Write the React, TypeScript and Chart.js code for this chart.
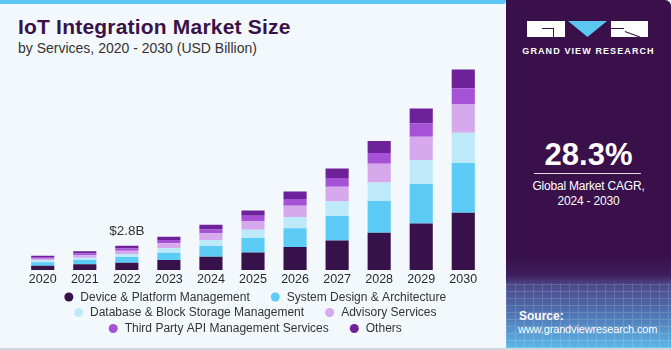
import React, { useEffect, useRef } from 'react';
import { Chart, registerables } from 'chart.js';

Chart.register(...registerables);

const years = ['2020', '2021', '2022', '2023', '2024', '2025', '2026', '2027', '2028', '2029', '2030'];
const devicePlatform = [0.50, 0.65, 0.84, 1.15, 1.53, 2.03, 2.65, 3.41, 4.30, 5.37, 6.60];
const systemDesign = [0.38, 0.50, 0.65, 0.84, 1.23, 1.65, 2.15, 2.80, 3.64, 4.53, 5.72];
const databaseStorage = [0.23, 0.27, 0.35, 0.54, 0.69, 0.96, 1.30, 1.69, 2.15, 2.76, 3.49];
const advisory = [0.19, 0.27, 0.38, 0.54, 0.77, 1.00, 1.30, 1.69, 2.15, 2.69, 3.26];
const thirdPartyApi = [0.19, 0.23, 0.27, 0.38, 0.46, 0.61, 0.77, 1.00, 1.23, 1.53, 1.88];
const others = [0.15, 0.23, 0.31, 0.38, 0.54, 0.61, 0.88, 1.11, 1.38, 1.73, 2.15];

const seriesNames = [
  'Device & Platform Management',
  'System Design & Architecture',
  'Database & Block Storage Management',
  'Advisory Services',
  'Third Party API Management Services',
  'Others',
];
const seriesColors = ['#371149', '#5ccbf5', '#bee9f9', '#d5a9ec', '#a652d7', '#6e229a'];
const legendRows = [[0, 1], [2, 3], [4, 5]];
const calloutIndex = 2;
const calloutText = '$2.8B';

const FONT = '"Liberation Sans", Arial, sans-serif';

const overlayPlugin = {
  id: 'overlay',
  afterDraw(chart: any) {
    const ctx = chart.ctx;
    ctx.save();
    const lastMeta = chart.getDatasetMeta(chart.data.datasets.length - 1);
    const el = lastMeta.data[calloutIndex];
    if (el) {
      ctx.font = `13.5px ${FONT}`;
      ctx.fillStyle = '#333333';
      ctx.textAlign = 'center';
      ctx.textBaseline = 'middle';
      ctx.fillText(calloutText, el.x, el.y - 14);
    }
    ctx.font = `12px ${FONT}`;
    ctx.textAlign = 'left';
    ctx.textBaseline = 'middle';
    const rowYs = [297, 312.5, 328.5];
    const centerX = 253;
    const r = 4.5;
    const textGap = 11.5;
    const itemGap = 21;
    legendRows.forEach((row, ri) => {
      const widths = row.map((i) => textGap + ctx.measureText(chart.data.datasets[i].label).width);
      const total = widths.reduce((a, b) => a + b, 0) + itemGap * (row.length - 1) + r;
      let x = centerX - total / 2;
      row.forEach((i, k) => {
        const ds = chart.data.datasets[i];
        ctx.beginPath();
        ctx.fillStyle = ds.backgroundColor;
        ctx.arc(x + r, rowYs[ri], r, 0, Math.PI * 2);
        ctx.fill();
        ctx.fillStyle = '#333333';
        ctx.fillText(ds.label, x + r + textGap, rowYs[ri] + 0.5);
        x += r + widths[k] + itemGap;
      });
    });
    ctx.restore();
  },
};

function BarChart() {
  const ref = useRef<HTMLCanvasElement | null>(null);
  useEffect(() => {
    if (!ref.current) return;
    const data = [devicePlatform, systemDesign, databaseStorage, advisory, thirdPartyApi, others];
    const chart = new Chart(ref.current, {
      type: 'bar',
      data: {
        labels: years,
        datasets: data.map((d, i) => ({
          label: seriesNames[i],
          data: d,
          backgroundColor: seriesColors[i],
          borderWidth: 0,
          barPercentage: 0.55,
          categoryPercentage: 1,
        })),
      },
      options: {
        animation: false,
        responsive: false,
        maintainAspectRatio: false,
        devicePixelRatio: 1,
        layout: { padding: { left: 21.7, right: 21.7, top: 61.7, bottom: 60 } },
        plugins: { legend: { display: false }, tooltip: { enabled: false } },
        scales: {
          x: {
            stacked: true,
            grid: { display: false, drawTicks: false },
            border: { display: false },
            ticks: { color: '#2b2b2b', font: { size: 12.5, family: FONT }, padding: 2, maxRotation: 0 },
            afterFit: (s: any) => { s.height = 20; },
          },
          y: { stacked: true, display: false, min: 0, max: 24 },
        },
      },
      plugins: [overlayPlugin],
    });
    return () => chart.destroy();
  }, []);
  return <canvas ref={ref} width={506} height={350} style={{ position: 'absolute', left: 0, top: 0, width: 506, height: 350 }} />;
}

export default function App() {
  return (
    <div style={{ position: 'fixed', left: 0, top: 0, width: 671, height: 350, background: '#f3f8fc', overflow: 'hidden', fontFamily: FONT }}>
      <div style={{ position: 'absolute', left: 0, top: 0, width: 506, height: 4, background: '#5bc6f1', borderRadius: '0 0 3px 0' }} />
      <div style={{ position: 'absolute', left: 0, bottom: 0, width: 671, height: 2, background: '#d2d6da' }} />
      <div style={{ position: 'absolute', left: 18, top: 15, fontSize: 21, fontWeight: 'bold', color: '#3a1249', lineHeight: '24px', whiteSpace: 'nowrap', letterSpacing: 0.2 }}>IoT Integration Market Size</div>
      <div style={{ position: 'absolute', left: 18, top: 40, fontSize: 14, color: '#333333', lineHeight: '16px', whiteSpace: 'nowrap' }}>by Services, 2020 - 2030 (USD Billion)</div>
      <BarChart />
      <div style={{ position: 'absolute', left: 506, top: 0, width: 165, height: 348, borderTopRightRadius: 6, overflow: 'hidden', background: 'linear-gradient(to bottom, #391049 0%, #391049 73%, #3e1e5c 79%, #4c4a8a 82%, #4f72b2 90%, #5cb8e8 100%)' }}>
        <div style={{ position: 'absolute', left: 0, top: 283, width: 165, height: 65, opacity: 0.15, backgroundImage: 'repeating-linear-gradient(90deg, #ffffff 0px, #ffffff 1px, transparent 1px, transparent 9px), repeating-linear-gradient(0deg, #ffffff 0px, #ffffff 1px, transparent 1px, transparent 7px)' }} />
        <div style={{ position: 'absolute', left: 21, top: 21, width: 38, height: 16, background: '#ffffff' }}>
          <div style={{ position: 'absolute', left: 15, top: 7, width: 12, height: 1, background: '#391049' }} />
          <div style={{ position: 'absolute', left: 26, top: 7, width: 1, height: 9, background: '#391049' }} />
        </div>
        <svg style={{ position: 'absolute', left: 62, top: 21 }} width={39} height={16}>
          <polygon points="0,0 39,0 19.5,16" fill="#5bc6f1" />
        </svg>
        <div style={{ position: 'absolute', left: 105, top: 21, width: 37, height: 16, background: '#ffffff' }}>
          <div style={{ position: 'absolute', left: 0, top: 7, width: 13, height: 1, background: '#391049' }} />
          <div style={{ position: 'absolute', left: 14, top: 10, width: 16, height: 1, background: '#391049', transform: 'rotate(20deg)', transformOrigin: '0 0' }} />
        </div>
        <div style={{ position: 'absolute', left: 0, top: 45, width: 165, textAlign: 'center', color: '#ffffff', fontSize: 9, fontWeight: 'bold', letterSpacing: 1.1, lineHeight: '12px', whiteSpace: 'nowrap' }}>GRAND VIEW RESEARCH</div>
        <div style={{ position: 'absolute', left: 0, top: 137, width: 165, textAlign: 'center', color: '#ffffff', fontSize: 31, fontWeight: 'bold', lineHeight: '36px' }}>28.3%</div>
        <div style={{ position: 'absolute', left: 28, top: 173, width: 107, height: 1, background: 'rgba(255,255,255,0.85)' }} />
        <div style={{ position: 'absolute', left: 0, top: 179, width: 165, textAlign: 'center', color: '#ffffff', fontSize: 12, lineHeight: '15px', letterSpacing: -0.2 }}>Global Market CAGR,<br />2024 - 2030</div>
        <div style={{ position: 'absolute', left: 13, top: 309, color: '#ffffff', fontSize: 12, fontWeight: 'bold', lineHeight: '14px' }}>Source:</div>
        <div style={{ position: 'absolute', left: 12, top: 322, color: '#ffffff', fontSize: 11, lineHeight: '14px', whiteSpace: 'nowrap', letterSpacing: -0.15 }}>www.grandviewresearch.com</div>
      </div>
    </div>
  );
}
